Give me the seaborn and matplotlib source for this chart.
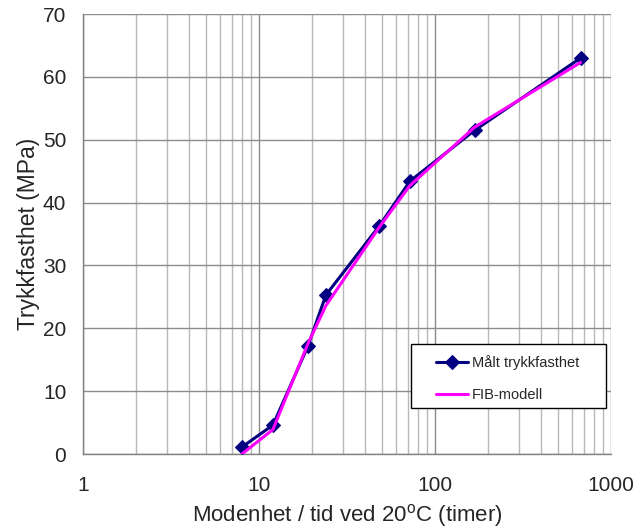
import matplotlib
matplotlib.use("Agg")
import matplotlib.pyplot as plt
import seaborn as sns
import pandas as pd
from matplotlib.ticker import LogLocator, FixedLocator, NullFormatter
from matplotlib.patches import Rectangle

# data
time_h = [8, 12, 19, 24, 48, 72, 168, 672]
measured = [1.1, 4.6, 17.2, 25.3, 36.2, 43.4, 51.5, 63.0]
fib_model = [0.0, 3.9, 17.6, 23.6, 36.0, 42.7, 52.0, 62.3]
series_names = ["Målt trykkfasthet", "FIB-modell"]
x_ticks = [1, 10, 100, 1000]
x_tick_labels = ["1", "10", "100", "1000"]

sns.set_style("white")
plt.rcParams['font.family'] = ['Liberation Sans', 'DejaVu Sans']
plt.rcParams['mathtext.fontset'] = 'custom'
plt.rcParams['mathtext.rm'] = 'Liberation Sans'
plt.rcParams['mathtext.it'] = 'Liberation Sans'

df_meas = pd.DataFrame({"t": time_h, "v": measured})
df_fib = pd.DataFrame({"t": time_h, "v": fib_model})

fig = plt.figure(figsize=(6.41, 5.31), dpi=100)
ax = fig.add_axes([83/641, 1-454/531, (611-83)/641, (454-14)/531])

sns.lineplot(data=df_meas, x="t", y="v", ax=ax, color="#000080", lw=2.2,
             marker="D", markersize=7, markeredgecolor="#000080",
             label=series_names[0], zorder=3)
sns.lineplot(data=df_fib, x="t", y="v", ax=ax, color="#FF00FF", lw=2.2,
             label=series_names[1], zorder=4)

ax.set_xscale("log")
ax.set_xlim(1, 1000)
ax.set_ylim(0, 70)
ax.set_yticks(range(0, 71, 10))
ax.xaxis.set_major_locator(FixedLocator(x_ticks))
ax.set_xticklabels(x_tick_labels)
ax.xaxis.set_minor_locator(LogLocator(base=10, subs=range(2, 10)))
ax.xaxis.set_minor_formatter(NullFormatter())

ax.grid(True, which="major", axis="both", color="#8c8c8c", lw=1.0)
ax.grid(True, which="minor", axis="x", color="#b8b8b8", lw=1.0)
ax.set_axisbelow(True)

for s in ["top", "right"]:
    ax.spines[s].set_visible(False)
for s in ["left", "bottom"]:
    ax.spines[s].set_color("#808080")
    ax.spines[s].set_linewidth(1.0)

ax.tick_params(axis="both", which="major", direction="out", length=6,
               color="#808080", labelsize=15, pad=6)
ax.tick_params(axis="x", which="minor", length=0)
ax.tick_params(axis="x", which="major", pad=10)

ax.set_xlabel("Modenhet / tid ved 20$^{\\mathrm{o}}$C (timer)", fontsize=16, labelpad=5)
ax.set_ylabel("Trykkfasthet (MPa)", fontsize=16.5, labelpad=2)

# legend box
ax.add_patch(Rectangle(((411-83)/528, (454-408)/440), (606-411)/528, (408-344)/440,
                       transform=ax.transAxes, facecolor="white", edgecolor="black",
                       lw=1.0, zorder=5))
leg = ax.legend(loc="upper left", bbox_to_anchor=((436-83)/528, (454-355)/440),
                fontsize=10.5, frameon=False, borderpad=0, borderaxespad=0,
                labelspacing=1.25, handlelength=2.2, handletextpad=0.28)
leg.set_zorder(6)

fig.savefig("out.png", dpi=100)
